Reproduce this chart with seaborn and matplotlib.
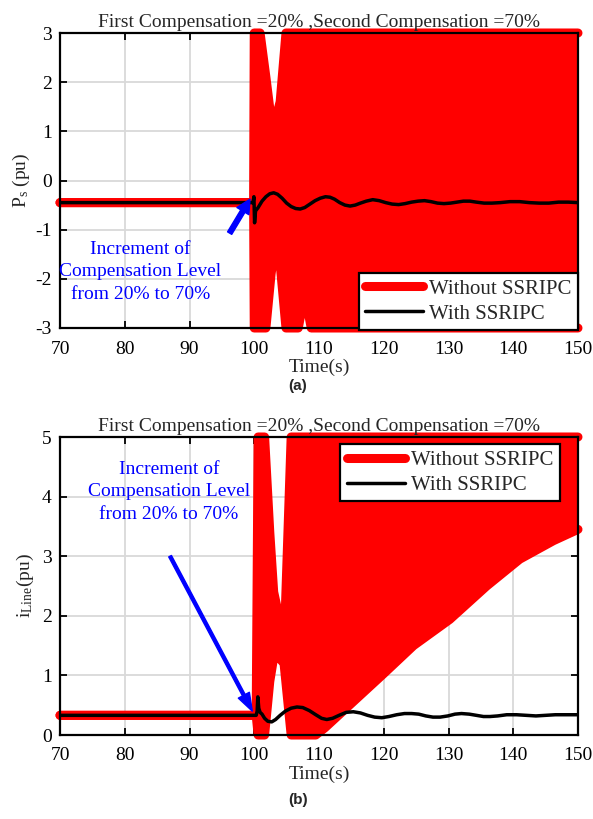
import matplotlib
matplotlib.use("Agg")
import matplotlib.pyplot as plt
from matplotlib.lines import Line2D
import seaborn as sns
import numpy as np

# ---------------- data ----------------
title_text = "First Compensation =20% ,Second Compensation =70%"
x_ticks = [70, 80, 90, 100, 110, 120, 130, 140, 150]
ya_ticks = [-3, -2, -1, 0, 1, 2, 3]
yb_ticks = [0, 1, 2, 3, 4, 5]
legend_labels = ["Without SSRIPC", "With SSRIPC"]
annot_text = "Increment of\nCompensation Level\nfrom 20% to 70%"

# (a) Ps - without SSRIPC: envelope of the fast oscillation (clipped at +-3)
a_red_t = [70, 99.9, 100.0, 100.9, 101.8, 102.6, 103.3, 104.0, 104.9, 106.8, 107.8, 108.8, 150]
a_red_up = [-0.45, -0.45, 3, 3, 2.1, 1.25, 1.25, 1.6, 3, 3, 3, 3, 3]
a_red_lo = [-0.45, -0.45, -3, -3, -3, -1.9, -1.25, -1.7, -3, -3, -2.3, -3, -3]

# (a) Ps - with SSRIPC
a_blk_t = [70, 99.8, 99.95, 100.05, 100.2, 100.6, 101.2, 101.8, 102.4, 103.0, 103.6, 104.3,
           105.0, 105.7, 106.4, 107.1, 107.8, 108.6, 109.4, 110.2, 111.0, 111.7, 112.4,
           113.2, 114.0, 114.8, 115.6, 116.4, 117.3, 118.3, 119.3, 120.3, 121.3, 122.3,
           123.3, 124.3, 125.3, 126.3, 127.3, 128.3, 129.3, 130.3, 131.3, 132.3, 133.3,
           134.3, 135.5, 136.7, 138, 139.5, 141, 142.5, 144, 145.5, 147, 148.5, 150]
a_blk_v = [-0.45, -0.45, -0.33, -0.86, -0.62, -0.55, -0.42, -0.33, -0.27, -0.25, -0.28, -0.36,
           -0.46, -0.53, -0.57, -0.58, -0.55, -0.48, -0.41, -0.36, -0.33, -0.34, -0.38,
           -0.45, -0.50, -0.52, -0.50, -0.46, -0.42, -0.39, -0.41, -0.45, -0.48, -0.49,
           -0.47, -0.44, -0.42, -0.41, -0.43, -0.46, -0.47, -0.46, -0.44, -0.42, -0.42,
           -0.44, -0.46, -0.46, -0.45, -0.43, -0.43, -0.45, -0.46, -0.46, -0.44, -0.44, -0.45]

# (b) iLine - without SSRIPC: envelope (clipped at 0..5)
b_red_t = [70, 100.3, 100.6, 101.6, 102.4, 103.0, 103.8, 104.6, 105.7, 108.0, 109.5, 110.9,
           116.3, 119.9, 124.6, 130.2, 135.9, 141.0, 146.2, 150]
b_red_up = [0.33, 0.33, 5, 5, 3.4, 2.4, 2.0, 1.45, 5, 5, 5, 5,
            5, 5, 5, 5, 5, 5, 5, 5]
b_red_lo = [0.33, 0.33, 0, 0, 0.9, 1.3, 1.3, 1.2, 0, 0, 0, 0.12,
            0.66, 1.02, 1.50, 1.94, 2.50, 2.95, 3.26, 3.45]

# (b) iLine - with SSRIPC
b_blk_t = [70, 100.3, 100.45, 100.55, 100.7, 100.9, 101.2, 101.6, 102.1, 102.7, 103.3, 104.0,
           104.8, 105.7, 106.6, 107.5, 108.5, 109.5, 110.4, 111.2, 112.1, 113.1, 114.2,
           115.3, 116.4, 117.5, 118.6, 119.7, 120.8, 122.0, 123.2, 124.3, 125.4, 126.5,
           127.6, 128.7, 129.9, 131.0, 132.0, 133.2, 134.3, 135.4, 136.4, 137.6, 139,
           140.5, 142, 143.5, 145, 146.5, 148, 150]
b_blk_v = [0.33, 0.33, 0.40, 0.64, 0.45, 0.38, 0.35, 0.28, 0.23, 0.22, 0.26, 0.33,
           0.40, 0.45, 0.47, 0.46, 0.41, 0.34, 0.28, 0.26, 0.28, 0.33, 0.38,
           0.39, 0.37, 0.33, 0.30, 0.29, 0.31, 0.34, 0.36, 0.36, 0.35, 0.32,
           0.30, 0.30, 0.32, 0.35, 0.36, 0.35, 0.33, 0.31, 0.31, 0.32, 0.34,
           0.34, 0.33, 0.32, 0.33, 0.34, 0.34, 0.34]

# annotation anchors (data coords)
a_arrow_tip, a_arrow_tail = (99.35, -0.38), (96.2, -1.07)
a_text_pos = (82.4, -1.86)
b_arrow_tip, b_arrow_tail = (99.7, 0.40), (87.0, 3.0)
b_text_pos = (86.8, 4.08)

# ---------------- style ----------------
sns.set_style("ticks")
plt.rcParams["font.family"] = ["Liberation Serif", "DejaVu Serif"]
plt.rcParams["mathtext.fontset"] = "custom"
plt.rcParams["mathtext.rm"] = "Liberation Serif"
plt.rcParams["mathtext.it"] = "Liberation Serif:italic"

RED = "#ff0000"
BLUE = "#0000ff"
FS = 14
RED_LW = 6.5
BLK_LW = 2.5

fig = plt.figure(figsize=(5.93, 8.19), dpi=100)
axA = fig.add_axes([60 / 593, 1 - 328 / 819, 518 / 593, 295 / 819])
axB = fig.add_axes([60 / 593, 1 - 735 / 819, 518 / 593, 298 / 819])


def draw_panel(ax, rt, rup, rlo, bt, bv, ylim, yticks):
    ax.fill_between(rt, rlo, rup, color=RED, lw=0, zorder=2)
    for env in (rup, rlo):
        sns.lineplot(x=rt, y=env, ax=ax, color=RED, lw=RED_LW, zorder=3,
                     solid_capstyle="round", solid_joinstyle="round", clip_on=False,
                     estimator=None, sort=False)
    sns.lineplot(x=bt, y=bv, ax=ax, color="black", lw=BLK_LW, zorder=5,
                 estimator=None, sort=False, solid_joinstyle="round")
    ax.set_xlim(70, 150)
    ax.set_ylim(*ylim)
    ax.set_xticks(x_ticks)
    ax.set_yticks(yticks)
    ax.set_xticklabels([str(v) for v in x_ticks], fontsize=FS)
    ax.set_yticklabels([str(v) for v in yticks], fontsize=FS)
    ax.grid(True, color="#d9d9d9", lw=1.3, zorder=0)
    ax.set_axisbelow(True)
    ax.tick_params(direction="in", top=True, right=True, length=5, width=1.3,
                   colors="black")
    ax.tick_params(axis="x", pad=9)
    ax.tick_params(axis="y", pad=6)
    for s in ax.spines.values():
        s.set_linewidth(1.6)
        s.set_color("black")
        s.set_zorder(6)
    ax.set_title(title_text, fontsize=FS, pad=4)
    ax.set_xlabel("Time(s)", fontsize=FS, labelpad=1)


draw_panel(axA, a_red_t, a_red_up, a_red_lo, a_blk_t, a_blk_v, (-3, 3), ya_ticks)
draw_panel(axB, b_red_t, b_red_up, b_red_lo, b_blk_t, b_blk_v, (0, 5), yb_ticks)

axA.set_ylabel(r"P$_\mathrm{s}$ (pu)", fontsize=FS, labelpad=2)
axB.set_ylabel(r"i$_\mathrm{Line}$(pu)", fontsize=FS, labelpad=4)

handles = [Line2D([], [], color=RED, lw=RED_LW), Line2D([], [], color="black", lw=BLK_LW)]
for ax, loc, anchor in ((axA, "lower right", (1.0, -0.006)),
                        (axB, "upper right", (0.965, 0.975))):
    leg = ax.legend(handles, legend_labels, loc=loc, bbox_to_anchor=anchor,
                    borderaxespad=0, fontsize=15, fancybox=False, framealpha=1,
                    edgecolor="black", handlelength=2.8, handletextpad=0.3,
                    labelspacing=0.25, borderpad=0.3)
    leg.get_frame().set_linewidth(1.6)
    leg.set_zorder(10)

# annotations
axA.text(*a_text_pos, annot_text, color=BLUE, fontsize=FS, ha="center", va="center",
         linespacing=1.4, zorder=7)
axA.annotate("", xy=a_arrow_tip, xytext=a_arrow_tail,
             arrowprops=dict(facecolor=BLUE, edgecolor=BLUE, width=3.5, headwidth=10,
                             headlength=10, shrink=0), zorder=8)
axB.text(*b_text_pos, annot_text, color=BLUE, fontsize=FS, ha="center", va="center",
         linespacing=1.4, zorder=7)
axB.annotate("", xy=b_arrow_tip, xytext=b_arrow_tail,
             arrowprops=dict(facecolor=BLUE, edgecolor=BLUE, width=2.2, headwidth=9,
                             headlength=13, shrink=0), zorder=8)

fig.text(298 / 593, 1 - 386 / 819, "(a)", fontsize=11, fontweight="bold",
         family="Liberation Sans", ha="center", va="center")
fig.text(298 / 593, 1 - 800 / 819, "(b)", fontsize=11, fontweight="bold",
         family="Liberation Sans", ha="center", va="center")

fig.savefig("out.png", dpi=100)
